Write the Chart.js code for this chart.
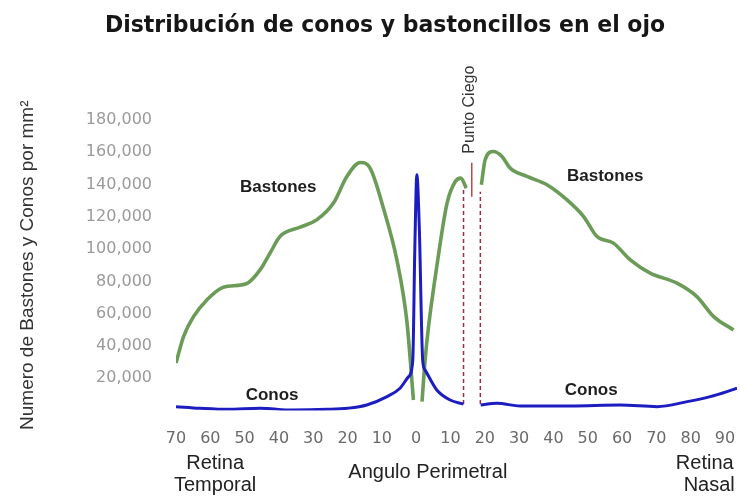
<!DOCTYPE html>
<html>
<head>
<meta charset="utf-8">
<script src="https://cdn.jsdelivr.net/npm/chart.js@4.4.0/dist/chart.umd.min.js"></script>
<style>
  html, body { margin: 0; padding: 0; background: #fff; }
  #wrap { width: 740px; height: 497px; position: relative; }
</style>
</head>
<body>
<div id="wrap"><canvas id="chart"></canvas></div>
<script>
// ángulo perimetral: negativo = retina temporal, positivo = retina nasal
const xTicks = [-70, -60, -50, -40, -30, -20, -10, 0, 10, 20, 30, 40, 50, 60, 70, 80, 90];

// bastones (null = hueco en la fóvea y en el punto ciego)
const rodAngles = [-70, -67.8, -64.9, -61, -56.2, -49.5, -45.5, -42.6, -39.7, -33.8, -29, -24.1, -20.2, -16.3, -13.4, -9.5, -5.6, -2.7, -0.8, 0.5,
  1.7, 2.6, 3.6, 6, 9, 11.4, 13, 14.6, 16.5, 19, 20.1, 22.5, 25, 27.4, 32.3, 38.1, 43.9, 48.8, 52.7, 57.5, 62.4, 68.2, 76, 81.8, 86.7, 92.5];
const rodDensity = [29500, 45800, 58200, 68500, 76400, 78500, 87100, 97500, 107800, 113600, 118100, 128500, 145000, 153700, 150000, 125000, 93000, 55000, 6500, null,
  5500, 31300, 52000, 89200, 128500, 141900, 144000, 137800, null, 139900, 155400, 160500, 157400, 150200, 145000, 139900, 130600, 120200, 107800, 103700, 93300, 85100, 78900, 70600, 58200, 49900];

// conos
const coneAngles = [-70, -63, -55, -45.5, -36, -26, -20, -14.4, -8.5, -4.7, -2.2, -1.0, -0.4, 0.2, 0.9, 1.9, 2.6, 6, 9.9, 13.8,
  16.2, 18.8, 23.5, 30.3, 45, 59.5, 70.2, 79, 85.7, 90.6, 93.5];
const coneDensity = [2400, 1400, 700, 1400, 300, 700, 1400, 3400, 8600, 13800, 21000, 31000, 100000, 146000, 114000, 31000, 25000, 12700, 6500, 4000,
  null, 3400, 4500, 2800, 2800, 3400, 2400, 5500, 8600, 11700, 13800];

// punto ciego: bordes (discontinuos) y marca central
const blindEdges = [13.8, 18.7];
const blindEdgeTop = [136800, 135500];
const blindBase = 4000;
const blindMark = 16.2;
const blindMarkRange = [132400, 153500];

const zip = (xs, ys) => xs.map((x, i) => ({ x, y: ys[i] }));

const edgeSets = blindEdges.map((ex, i) => ({
  data: [{ x: ex, y: blindBase }, { x: ex, y: blindEdgeTop[i] }],
  borderColor: "#9b2d3c",
  borderWidth: 1.5,
  borderDash: [4, 3],
  pointRadius: 0,
  order: 2,
}));

const overlay = {
  id: "overlay",
  afterDraw(chart) {
    const { ctx, chartArea } = chart;
    const x = chart.scales.x, y = chart.scales.y;
    const b = chartArea.bottom;
    ctx.save();

    // título (ajustado al ancho del original)
    const title = "Distribución de conos y bastoncillos en el ojo";
    ctx.font = 'bold 23px "DejaVu Sans Condensed", "DejaVu Sans", sans-serif';
    ctx.fillStyle = "#161616";
    ctx.textAlign = "center";
    ctx.textBaseline = "alphabetic";
    const tw = ctx.measureText(title).width;
    ctx.save();
    ctx.translate(385, 31.5);
    ctx.scale(560 / tw, 1);
    ctx.fillText(title, 0, 0);
    ctx.restore();

    ctx.textBaseline = "middle";
    ctx.fillStyle = "#1e1e1e";
    ctx.font = 'bold 17px "Liberation Sans", Arial, sans-serif';
    ctx.fillText("Bastones", x.getPixelForValue(-40.2), y.getPixelForValue(138000));
    ctx.fillText("Bastones", x.getPixelForValue(55.1), y.getPixelForValue(144800));
    ctx.fillText("Conos", x.getPixelForValue(-42), y.getPixelForValue(9600));
    ctx.fillText("Conos", x.getPixelForValue(51), y.getPixelForValue(12700));

    ctx.fillStyle = "#222";
    ctx.font = '20px "Liberation Sans", Arial, sans-serif';
    ctx.fillText("Retina", x.getPixelForValue(-58.6), b + 52.5);
    ctx.fillText("Temporal", x.getPixelForValue(-58.6), b + 74.5);
    ctx.fillText("Angulo Perimetral", x.getPixelForValue(3.4), b + 61.5);
    ctx.fillText("Retina", x.getPixelForValue(84.1), b + 52.5);
    ctx.fillText("Nasal", x.getPixelForValue(85.4), b + 74.5);

    ctx.fillStyle = "#333";
    ctx.font = '16px "Liberation Sans", Arial, sans-serif';
    ctx.translate(x.getPixelForValue(15.7), y.getPixelForValue(186400));
    ctx.rotate(-Math.PI / 2);
    ctx.fillText("Punto Ciego", 0, 0);
    ctx.restore();
  },
};

new Chart(document.getElementById("chart").getContext("2d"), {
  type: "line",
  data: {
    datasets: [
      {
        label: "Conos",
        data: zip(coneAngles, coneDensity),
        borderColor: "#1c1cc0",
        borderWidth: 3,
        pointRadius: 0,
        cubicInterpolationMode: "monotone",
        order: 0,
      },
      {
        label: "Bastones",
        data: zip(rodAngles, rodDensity),
        borderColor: "#6b9c57",
        borderWidth: 3.6,
        pointRadius: 0,
        cubicInterpolationMode: "monotone",
        order: 1,
      },
      ...edgeSets,
      {
        data: [{ x: blindMark, y: blindMarkRange[0] }, { x: blindMark, y: blindMarkRange[1] }],
        borderColor: "#b8494f",
        borderWidth: 1.5,
        pointRadius: 0,
        order: 2,
      },
    ],
  },
  options: {
    responsive: true,
    maintainAspectRatio: false,
    animation: false,
    spanGaps: false,
    layout: { padding: { top: 120, right: 3, bottom: 0, left: 0 } },
    plugins: {
      legend: { display: false },
      tooltip: { enabled: false },
      title: { display: false },
    },
    scales: {
      x: {
        type: "linear",
        min: -70,
        max: 93.5,
        grid: { display: false, drawTicks: false },
        border: { display: false },
        afterBuildTicks: (axis) => { axis.ticks = xTicks.map((v) => ({ value: v })); },
        afterFit: (axis) => {
          axis.height = 86.5;
          axis.paddingLeft = 0;
          axis.paddingRight = 0;
        },
        ticks: {
          padding: 19,
          color: "#6a6a6a",
          font: { family: '"DejaVu Sans", sans-serif', size: 16 },
          callback: (v) => String(Math.abs(v)),
        },
      },
      y: {
        min: 0,
        max: 180000,
        grid: { display: false, drawTicks: false },
        border: { display: false },
        afterFit: (axis) => {
          axis.width = 176;
          axis.paddingTop = 0;
          axis.paddingBottom = 0;
        },
        ticks: {
          stepSize: 20000,
          padding: 24,
          color: "#9a9a9a",
          font: { family: '"DejaVu Sans", sans-serif', size: 16 },
          callback: (v) => (v === 0 ? "" : v.toLocaleString("en-US")),
        },
        title: {
          display: true,
          text: "Numero de Bastones y Conos por mm²",
          color: "#333",
          font: { family: '"Liberation Sans", Arial, sans-serif', size: 19 },
          padding: { top: 16, bottom: 0 },
        },
      },
    },
  },
  plugins: [overlay],
});
</script>
</body>
</html>
